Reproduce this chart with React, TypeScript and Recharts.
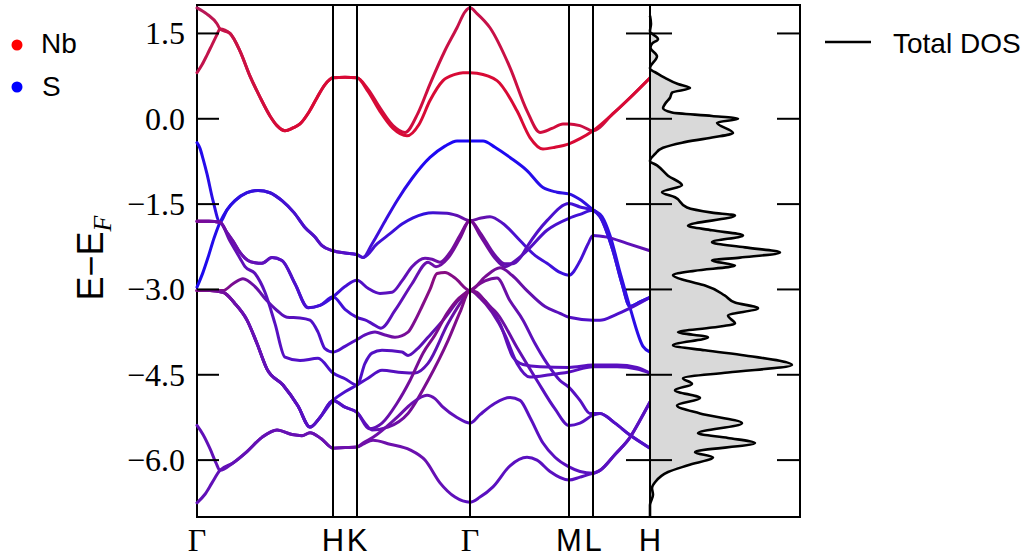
import React from 'react';
import { ComposedChart, Line, Area, XAxis, YAxis, ReferenceLine, ReferenceArea } from 'recharts';

type Pt = [number, number];

// k-path positions (distance along the path) and their labels
const kPath = [0, 136, 160, 273, 372, 396, 453];
const kLabels = ['Γ', 'H', 'K', 'Γ', 'M', 'L', 'H'];
const eTicks = [1.5, 0, -1.5, -3, -4.5, -6];

// ---- conduction bands (Nb d) ----
const nbUpper: Pt[] = [[0, 1.95], [10, 1.84], [20, 1.67], [23, 1.58], [33, 1.5], [43, 1.19], [53, 0.75], [63, 0.38], [73, 0.05], [80, -0.12], [88, -0.21], [96, -0.16], [103, -0.09], [112, 0.12], [120, 0.37], [128, 0.6], [136, 0.72], [148, 0.73], [160, 0.72], [171, 0.52], [183, 0.19], [196, -0.12], [208, -0.24], [221, 0.1], [233, 0.61], [248, 1.2], [260, 1.6], [268, 1.88], [273, 1.95], [280, 1.85], [293, 1.6], [313, 0.9], [330, 0.14], [343, -0.24], [355, -0.17], [366, -0.09], [372, -0.09], [383, -0.12], [396, -0.21], [416, 0.09], [433, 0.37], [453, 0.72]];
const nbLowerGH: Pt[] = [[0, 0.81], [5, 0.95], [10, 1.12], [15, 1.3], [20, 1.48], [23, 1.58]];
const nbLowerKM: Pt[] = [[171, 0.48], [183, 0.13], [196, -0.17], [210, -0.3], [222, -0.1], [233, 0.32], [246, 0.67], [258, 0.78], [266, 0.81], [273, 0.81], [280, 0.8], [300, 0.67], [320, 0.14], [333, -0.33], [346, -0.53], [358, -0.5], [372, -0.44], [383, -0.35], [396, -0.21]];

// ---- valence bands, Γ–H ----
const ghDrop: Pt[] = [[0, -0.42], [3, -0.52], [6, -0.7], [10, -0.97], [16, -1.44]];
const ghRise: Pt[] = [[0, -2.96], [6, -2.7], [11, -2.44], [17, -2.1]];
const ghPeak: Pt[] = [[23, -1.82], [30, -1.6], [38, -1.44], [50, -1.3], [61, -1.26], [73, -1.3], [85, -1.44], [97, -1.65], [108, -1.91], [118, -2.08], [125, -2.23], [136, -2.32], [148, -2.36], [160, -2.39]];
const ghFlat: Pt[] = [[0, -1.8], [12, -1.8]];
const ghLd: Pt[] = [[23, -1.82], [30, -2.0], [36, -2.15], [43, -2.35], [51, -2.49], [58, -2.53], [65, -2.54], [75, -2.44], [85, -2.49], [98, -2.9], [111, -3.32], [123, -3.28], [136, -3.13]];
const ghLc: Pt[] = [[23, -1.82], [33, -2.15], [43, -2.45], [48, -2.6], [58, -2.72], [68, -3.05], [78, -3.6], [88, -4.19], [103, -4.25], [121, -4.21], [136, -4.47]];
const ghLa: Pt[] = [[0, -3.02], [13, -3.02], [26, -3.02], [36, -2.9], [46, -2.81], [58, -2.95], [70, -3.2], [80, -3.37], [90, -3.49], [103, -3.5], [113, -3.54], [121, -3.75], [128, -4.04], [136, -4.1]];
const ghLb: Pt[] = [[0, -3.02], [13, -3.02], [26, -3.05], [38, -3.25], [50, -3.54], [60, -3.95], [70, -4.4], [86, -4.68], [101, -5.05], [113, -5.42], [123, -5.25], [136, -4.95]];
const ghLe: Pt[] = [[0, -5.39], [6, -5.55], [13, -5.8], [19, -6.05]];
const ghLf: Pt[] = [[0, -6.75], [8, -6.6], [15, -6.4]];
const ghLow: Pt[] = [[23, -6.18], [36, -6.05], [50, -5.85], [65, -5.6], [80, -5.47], [95, -5.55], [105, -5.57], [113, -5.52], [124, -5.62], [136, -5.79], [148, -5.78], [160, -5.77]];

// ---- H–K ----
const hkUp: Pt[] = [[148, -2.95], [160, -2.84]];
const hkDn: Pt[] = [[148, -3.35], [160, -3.49]];
const hkLa: Pt[] = [[148, -4.0], [160, -3.88]];
const hkLc: Pt[] = [[148, -4.57], [160, -4.68]];
const hkLbUp: Pt[] = [[148, -4.8], [160, -4.68]];
const hkLbDn: Pt[] = [[148, -5.07], [160, -5.16]];

// ---- K–Γ ----
const kgBt: Pt[] = [[166, -2.44], [175, -2.2], [188, -1.8], [200, -1.44], [215, -1.05], [233, -0.68], [248, -0.48], [260, -0.39], [273, -0.39]];
const kgBp: Pt[] = [[166, -2.44], [180, -2.2], [193, -2.02], [205, -1.85], [216, -1.74], [236, -1.65], [250, -1.66], [260, -1.7], [273, -1.79]];
const kgH1: Pt[] = [[171, -2.98], [183, -3.07], [195, -3.05], [205, -2.85], [215, -2.6], [228, -2.45], [235, -2.47], [243, -2.52], [253, -2.35], [263, -2.05], [273, -1.79]];
const kgH2: Pt[] = [[170, -3.55], [175, -3.6], [184, -3.68], [198, -3.37], [215, -2.9], [231, -2.52], [239, -2.6], [251, -2.45], [263, -2.1], [273, -1.79]];
const kgM: Pt[] = [[168, -3.8], [178, -3.75], [188, -3.8], [198, -3.84], [211, -3.75], [218, -3.55], [225, -3.3], [233, -3.0], [240, -2.72], [248, -2.7], [258, -2.8], [273, -3.02]];
const kgA: Pt[] = [[168, -4.3], [175, -4.12], [185, -4.07], [205, -4.1], [211, -4.16], [220, -4.05], [231, -3.84], [248, -3.5], [261, -3.2], [273, -3.02]];
const kgC: Pt[] = [[171, -4.56], [185, -4.42], [205, -4.46], [218, -4.47], [231, -4.3], [251, -3.6], [263, -3.25], [273, -3.02]];
const kgB: Pt[] = [[168, -5.35], [175, -5.47], [191, -5.42], [211, -5.18], [231, -4.6], [251, -3.9], [263, -3.4], [273, -3.02]];
const kgT: Pt[] = [[172, -5.45], [185, -5.35], [200, -5.0], [213, -4.6], [226, -4.12], [238, -3.8], [250, -3.42], [262, -3.15], [273, -3.02]];
const kgPk: Pt[] = [[166, -5.7], [176, -5.6], [200, -5.25], [215, -5.0], [230, -4.86], [238, -4.92], [246, -5.07], [260, -5.25], [273, -5.35]];
const kgBot: Pt[] = [[166, -5.72], [176, -5.65], [193, -5.72], [213, -5.82], [228, -6.0], [243, -6.4], [258, -6.65], [273, -6.74]];

// ---- Γ–M–L–H ----
const gmBt: Pt[] = [[286, -0.39], [298, -0.5], [313, -0.68], [330, -0.91], [346, -1.21], [360, -1.29], [372, -1.32], [383, -1.42], [396, -1.6], [405, -1.72], [413, -2.05], [423, -2.7], [433, -3.32], [446, -4.0], [453, -4.1]];
const gmBp: Pt[] = [[283, -1.75], [293, -1.72], [306, -1.84], [323, -2.14], [338, -2.4], [350, -2.54], [363, -2.7], [372, -2.75], [383, -2.5], [391, -2.2], [396, -2.05], [410, -2.08], [430, -2.19], [453, -2.32]];
const gmH1: Pt[] = [[283, -2.0], [298, -2.4], [308, -2.55], [316, -2.55], [323, -2.45], [330, -2.25], [350, -1.79], [372, -1.49], [383, -1.55], [396, -1.61]];
const gmH2: Pt[] = [[283, -2.05], [298, -2.45], [308, -2.6], [318, -2.5], [330, -2.32], [350, -1.96], [372, -1.75], [383, -1.68], [396, -1.61]];
const lhSteep: Pt[] = [[403, -1.72], [416, -2.32], [425, -2.9], [433, -3.3], [443, -3.22], [453, -3.14]];
const gmM: Pt[] = [[288, -2.78], [303, -2.62], [315, -2.75], [330, -3.02], [348, -3.3], [363, -3.42], [372, -3.49], [396, -3.54], [403, -3.54], [418, -3.45], [433, -3.33], [453, -3.14]];
const gmA: Pt[] = [[283, -3.12], [293, -3.3], [303, -3.6], [316, -4.19], [326, -4.32], [343, -4.36], [372, -4.37], [396, -4.33], [420, -4.33], [440, -4.37], [453, -4.47]];
const gmC: Pt[] = [[283, -3.15], [295, -3.4], [308, -3.8], [320, -4.3], [333, -4.54], [353, -4.5], [372, -4.45], [396, -4.36], [420, -4.36], [440, -4.4], [453, -4.47]];
const gmB: Pt[] = [[280, -3.05], [290, -3.25], [300, -3.42], [320, -4.02], [340, -4.6], [358, -5.1], [372, -5.39], [383, -5.35], [396, -5.21]];
const gmT: Pt[] = [[288, -2.85], [300, -2.8], [313, -3.2], [326, -3.54], [338, -3.95], [350, -4.3], [363, -4.6], [372, -4.72], [383, -4.95], [393, -5.18]];
const lhLow: Pt[] = [[403, -5.18], [418, -5.35], [433, -5.56], [453, -5.79]];
const gmPk: Pt[] = [[283, -5.2], [298, -5.0], [313, -4.9], [323, -4.95], [333, -5.25], [346, -5.7], [358, -5.95], [372, -6.12], [383, -6.2]];
const gmBot: Pt[] = [[283, -6.65], [296, -6.47], [313, -6.1], [330, -5.95], [340, -6.0], [353, -6.2], [372, -6.35], [383, -6.3]];
const lhUp: Pt[] = [[396, -6.23], [403, -6.18], [418, -5.9], [433, -5.6], [443, -5.3], [453, -4.98]];

const bands: Pt[][] = [
  nbUpper,
  [...nbLowerGH, ...nbUpper.filter(([k]) => k > 23 && k <= 160), ...nbLowerKM, ...nbUpper.filter(([k]) => k > 396)],
  [...ghDrop, ...ghPeak, ...kgBt, ...gmBt],
  [...ghRise, ...ghPeak, ...kgBp, ...gmBp],
  [...ghFlat, ...ghLd, ...hkUp, ...kgH1, ...gmH1, ...lhSteep],
  [...ghFlat, ...ghLd, ...hkDn, ...kgH2, ...gmH2, ...lhSteep],
  [...ghLa, ...hkLa, ...kgM, ...gmM],
  [...ghFlat, ...ghLc, ...hkLc, ...kgA, ...gmA],
  [...ghLb, ...hkLbUp, ...kgC, ...gmC],
  [...ghLb, ...hkLbDn, ...kgB, ...gmB, ...lhLow],
  [...ghLb, ...hkLbDn, ...kgT, ...gmT, ...lhLow],
  [...ghLe, ...ghLow, ...kgPk, ...gmPk, ...lhUp],
  [...ghLf, ...ghLow, ...kgBot, ...gmBot, ...lhUp],
];

// colour along each band (fraction of path, colour): red = Nb, blue = S
const bandStops: [number, string][][] = [
  [[0, '#b3195c'], [0.06, '#c41449'], [0.2, '#d20b3b'], [0.5, '#cf0d3f'], [0.6, '#c3124b'], [0.8, '#d20c3b'], [0.87, '#c71046'], [1, '#d20c3b']],
  [[0, '#c0124d'], [0.05, '#c41449'], [0.2, '#d80a35'], [1, '#d80a35']],
  [[0, '#2008f0'], [0.05, '#3010e0'], [0.2, '#4010d8'], [0.3, '#5a10c0'], [0.36, '#4a10d0'], [0.5, '#2008f2'], [0.65, '#1a08f5'], [0.82, '#3010e0'], [1, '#2a0ce8']],
  [[0, '#1a08f0'], [0.1, '#3010e0'], [0.3, '#5a10c0'], [0.36, '#4a10d0'], [0.5, '#3010e0'], [0.6, '#7010a0'], [0.7, '#4a10d0'], [0.82, '#3a10e0'], [0.9, '#5a10c0'], [1, '#6010b0']],
  [[0, '#7a0a95'], [0.1, '#6a10b0'], [0.3, '#3a10e0'], [0.36, '#5010c8'], [0.5, '#6a10b0'], [0.6, '#7a0c90'], [0.75, '#5010c8'], [0.85, '#4010d8'], [1, '#2a10e8']],
  [[0, '#7a0a95'], [0.1, '#6a10b0'], [0.3, '#3a10e0'], [0.36, '#5010c8'], [0.5, '#6a10b0'], [0.6, '#7a0c90'], [0.75, '#5010c8'], [0.85, '#4010d8'], [1, '#2a10e8']],
  [[0, '#8a0a80'], [0.06, '#800c88'], [0.15, '#6010b0'], [0.3, '#4a10d0'], [0.36, '#5a10c0'], [0.52, '#8a0c80'], [0.6, '#800c88'], [0.75, '#6010b0'], [0.85, '#5010c8'], [1, '#4a10d0']],
  [[0, '#7a0a95'], [0.1, '#6010b8'], [0.3, '#4a10d0'], [0.55, '#6010b0'], [0.6, '#7a0c90'], [0.7, '#5a10c0'], [1, '#5a10c0']],
  [[0, '#800c88'], [0.1, '#6010b8'], [0.3, '#4a10d0'], [0.55, '#6010b0'], [0.6, '#7a0c90'], [0.7, '#5a10c0'], [1, '#5a10c0']],
  [[0, '#800c88'], [0.1, '#6a10b0'], [0.3, '#5010c8'], [0.36, '#5a10c0'], [0.5, '#7a0c90'], [0.6, '#800c88'], [0.75, '#5a10c0'], [1, '#5010c8']],
  [[0, '#800c88'], [0.1, '#6a10b0'], [0.3, '#5010c8'], [0.36, '#5a10c0'], [0.5, '#7a0c90'], [0.6, '#800c88'], [0.75, '#5a10c0'], [1, '#5010c8']],
  [[0, '#6010b8'], [0.3, '#6a10b0'], [0.36, '#7010a8'], [0.5, '#6a10b0'], [0.6, '#5a10c0'], [1, '#5a10c0']],
  [[0, '#6010b8'], [0.3, '#6a10b0'], [0.36, '#7010a8'], [0.5, '#6a10b0'], [0.6, '#5a10c0'], [1, '#5a10c0']],
];

// total DOS, energy (eV) and value
const dosE = [1.81, 1.67, 1.54, 1.4, 1.32, 1.25, 1.1, 0.89, 0.79, 0.72, 0.61, 0.54, 0.46, 0.37, 0.26, 0.19, 0.11, 0.05, 0.0, -0.07, -0.25, -0.33, -0.42, -0.51, -0.62, -0.74, -0.82, -1.0, -1.17, -1.29, -1.38, -1.56, -1.65, -1.7, -1.88, -1.96, -2.05, -2.17, -2.26, -2.35, -2.44, -2.49, -2.58, -2.67, -2.75, -2.84, -2.93, -3.11, -3.23, -3.33, -3.46, -3.6, -3.67, -3.75, -3.84, -3.98, -4.07, -4.16, -4.33, -4.46, -4.56, -4.66, -4.77, -4.91, -5.04, -5.18, -5.35, -5.53, -5.61, -5.7, -5.86, -5.95, -6.09, -6.21, -6.39, -6.49, -6.61, -6.79, -7.0];
const dosV = [0, 1, 0, 8, 2, 0.5, 7, 0, 8, 15, 28, 40, 22, 20, 15, 13, 22, 62, 88, 67, 83, 62, 32, 13, 5, 0, 7, 18, 32, 12, 25, 37, 62, 85, 38, 62, 93, 62, 95, 130, 90, 62, 85, 45, 23, 35, 55, 75, 85, 108, 78, 85, 62, 28, 58, 23, 55, 95, 142, 78, 33, 42, 25, 50, 27, 50, 92, 48, 78, 105, 45, 63, 38, 18, 5, 2, 3, 0, 0];

const PLOT_W = 453;
const fmt = (v: number) => (v < 0 ? '\u2212' : '') + Math.abs(v).toFixed(1);

function ETick(props: any) {
  const { x, y, payload } = props;
  return (
    <g>
      <line x1={x} x2={x + 22} y1={y} y2={y} stroke="#000" strokeWidth={2} />
      <line x1={x + PLOT_W - 24} x2={x + PLOT_W} y1={y} y2={y} stroke="#000" strokeWidth={2} />
      <text x={x - 12} y={y} dy={11} textAnchor="end" fontFamily="'Liberation Serif', serif" fontSize={32} fill="#000">
        {fmt(payload.value)}
      </text>
    </g>
  );
}

function KTick(props: any) {
  const { x, y, payload } = props;
  const label = kLabels[kPath.indexOf(payload.value)];
  const serif = label === 'Γ';
  return (
    <text x={x} y={y + 34} textAnchor="middle" fill="#000"
      fontFamily={serif ? "'Liberation Serif', serif" : "'Liberation Sans', sans-serif"} fontSize={serif ? 32 : 31}>
      {label}
    </text>
  );
}

function DosTick(props: any) {
  const { x, y } = props;
  return (
    <g>
      <line x1={x} x2={x + 22} y1={y} y2={y} stroke="#000" strokeWidth={2} />
      <line x1={x + 127} x2={x + 150} y1={y} y2={y} stroke="#000" strokeWidth={2} />
    </g>
  );
}

export default function App() {
  const dosData = dosE.map((e, i) => ({ e, dos: dosV[i] }));
  return (
    <div style={{ position: 'absolute', left: 0, top: 0, width: 1033, height: 560, background: '#fff' }}>
      <div style={{ position: 'absolute', left: 0, top: 0 }}>
        <ComposedChart width={660} height={560} margin={{ top: 5, right: 10, bottom: 3, left: 137 }}>
          <defs>
            {bandStops.map((stops, i) => (
              <linearGradient key={i} id={`band${i}`} x1="0" y1="0" x2="1" y2="0">
                {stops.map(([o, c], j) => <stop key={j} offset={o} stopColor={c} />)}
              </linearGradient>
            ))}
          </defs>
          <XAxis type="number" dataKey="k" domain={[0, 453]} ticks={kPath} interval={0}
            axisLine={false} tickLine={false} tickSize={0} tickMargin={0} height={40} tick={<KTick />} allowDuplicatedCategory />
          <YAxis type="number" domain={[-7, 2]} ticks={eTicks} interval={0} width={60}
            axisLine={false} tickLine={false} tickSize={0} tickMargin={0} tick={<ETick />} />
          {bands.map((b, i) => (
            <Line key={i} data={b.map(([k, e]) => ({ k, e }))} dataKey="e" type="monotone"
              stroke={`url(#band${i})`} strokeWidth={3} dot={false} activeDot={false}
              isAnimationActive={false} strokeLinecap="round" />
          ))}
          {kPath.slice(1, 6).map((k) => (
            <ReferenceLine key={k} x={k} stroke="#000" strokeWidth={2} />
          ))}
          <ReferenceArea x1={0} x2={453} y1={-7} y2={2} fill="none" stroke="#000" strokeWidth={2} />
        </ComposedChart>
      </div>
      <div style={{ position: 'absolute', left: 600, top: 0 }}>
        <ComposedChart layout="vertical" width={210} height={560} data={dosData}
          margin={{ top: 5, right: 10, bottom: 43, left: 20 }}>
          <XAxis type="number" domain={[0, 150]} hide />
          <YAxis type="number" dataKey="e" domain={[-7, 2]} ticks={eTicks} interval={0} width={30} reversed
            axisLine={false} tickLine={false} tickSize={0} tickMargin={0} tick={<DosTick />} />
          <Area dataKey="dos" type="monotone" fill="#d9d9d9" fillOpacity={1} stroke="#000"
            strokeWidth={2.6} isAnimationActive={false} dot={false} activeDot={false} />
          <ReferenceArea x1={0} x2={150} y1={-7} y2={2} fill="none" stroke="#000" strokeWidth={2} />
        </ComposedChart>
      </div>
      <svg width={1033} height={560} style={{ position: 'absolute', left: 0, top: 0, pointerEvents: 'none' }}>
        <circle cx={17} cy={45} r={5.5} fill="#ff0000" />
        <text x={41} y={53} fontFamily="'Liberation Sans', sans-serif" fontSize={28}>Nb</text>
        <circle cx={17} cy={87} r={5.5} fill="#0000ff" />
        <text x={42} y={96} fontFamily="'Liberation Sans', sans-serif" fontSize={28}>S</text>
        <line x1={825} x2={871} y1={42} y2={42} stroke="#000" strokeWidth={2.5} />
        <text x={893} y={53} fontFamily="'Liberation Sans', sans-serif" fontSize={28}>Total DOS</text>
        <text transform="translate(103,258) rotate(-90)" textAnchor="middle"
          fontFamily="'Liberation Sans', sans-serif" fontSize={36}>
          E{'\u2212'}E
          <tspan fontFamily="'Liberation Serif', serif" fontStyle="italic" fontSize={26} dy={8}>F</tspan>
        </text>
      </svg>
    </div>
  );
}
